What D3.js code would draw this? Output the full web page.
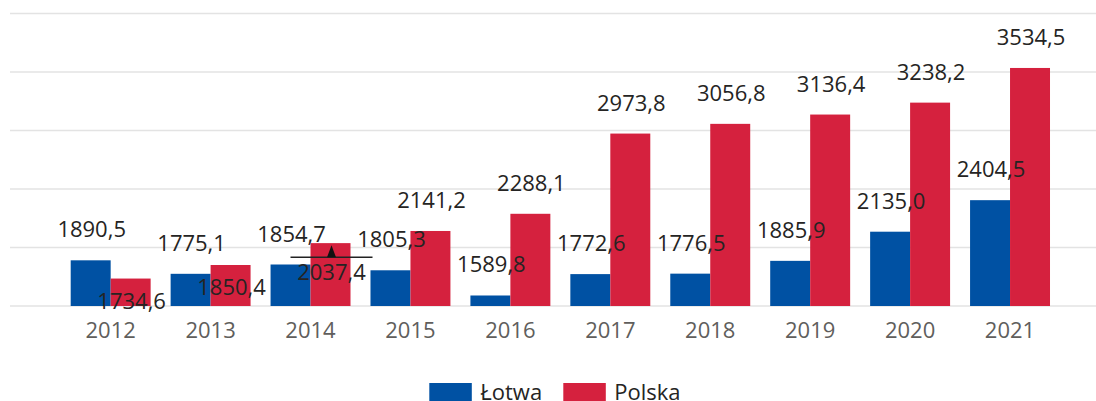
<!DOCTYPE html>
<html>
<head>
<meta charset="utf-8">
<script src="https://cdn.jsdelivr.net/npm/d3@7"></script>
<style>
  body { margin: 0; background: #fff; }
  svg { display: block; font-family: "Segoe UI", "Open Sans", sans-serif; }
</style>
</head>
<body>
<svg id="chart" width="1096" height="401"></svg>
<script>
var years = ["2012", "2013", "2014", "2015", "2016", "2017", "2018", "2019", "2020", "2021"]
var seriesNames = ["Łotwa", "Polska"]
var lotwa = [1890.5, 1775.1, 1854.7, 1805.3, 1589.8, 1772.6, 1776.5, 1885.9, 2135.0, 2404.5]
var polska = [1734.6, 1850.4, 2037.4, 2141.2, 2288.1, 2973.8, 3056.8, 3136.4, 3238.2, 3534.5]
var gridValues = [1500, 2000, 2500, 3000, 3500, 4000]
var markerYear = "2014"
var markerValue = 1916

var colors = { "Łotwa": "#0051a3", "Polska": "#d5213e" }
var svg = d3.select("#chart")

var x0 = d3.scaleBand().domain(years).range([60.7, 1060]).paddingInner(0.2).paddingOuter(0.1)
var x1 = d3.scaleBand().domain(seriesNames).range([0, x0.bandwidth()])
var y = d3.scaleLinear().domain([1500, 4000]).range([306, 13.5])

var rows = years.map(function(yr, i) {
  return { year: yr, values: [
    { name: "Łotwa", value: lotwa[i] },
    { name: "Polska", value: polska[i] }
  ]}
})

// grid
svg.append("g").selectAll("line")
  .data(gridValues)
  .enter()
  .append("line")
  .attr("x1", 10)
  .attr("x2", 1096)
  .attr("y1", (d) => y(d))
  .attr("y2", (d) => y(d))
  .attr("stroke", "#e3e3e3")
  .attr("stroke-width", 1.5)

// bars
var groups = svg.append("g").selectAll("g")
  .data(rows)
  .enter()
  .append("g")
  .attr("transform", (d) => "translate(" + x0(d.year) + ",0)")

groups.selectAll("rect")
  .data((d) => d.values)
  .enter()
  .append("rect")
  .attr("x", (d) => x1(d.name))
  .attr("y", (d) => y(d.value))
  .attr("width", x1.bandwidth())
  .attr("height", (d) => y(1500) - y(d.value))
  .attr("fill", (d) => colors[d.name])

// marker
var mx = x0(markerYear) + x1("Polska") + x1.bandwidth() / 2 + 1
var my = y(markerValue)
var marker = svg.append("g")
marker.append("line")
  .attr("x1", mx - 41).attr("x2", mx + 41)
  .attr("y1", my).attr("y2", my)
  .attr("stroke", "#222").attr("stroke-width", 1.5)
marker.append("path")
  .attr("d", "M" + (mx - 4.5) + "," + my + "L" + mx + "," + (my - 12) + "L" + (mx + 4.5) + "," + my + "Z")
  .attr("fill", "#111")

// data labels: above the bar, moved inside when they collide with the neighbour
var labels = []
rows.forEach(function(r) {
  var aMid = y(r.values[0].value) - 31
  labels.push({ year: r.year, name: "Łotwa", value: r.values[0].value, mid: aMid })
  var top = y(r.values[1].value)
  var bMid = top - 31
  if (Math.abs(bMid - aMid) < 26) {
    bMid = top + 22
    if (r.year == markerYear) bMid = Math.max(bMid, my + 15)
  }
  labels.push({ year: r.year, name: "Polska", value: r.values[1].value, mid: bMid })
})

svg.append("g").selectAll("text")
  .data(labels)
  .enter()
  .append("text")
  .attr("x", (d) => x0(d.year) + x1(d.name) + x1.bandwidth() / 2 + 1)
  .attr("y", (d) => d.mid + 8)
  .attr("text-anchor", "middle")
  .attr("font-size", 22)
  .attr("fill", "#252423")
  .text((d) => d3.format(".1f")(d.value).replace(".", ","))

// x axis labels
svg.append("g").selectAll("text")
  .data(years)
  .enter()
  .append("text")
  .attr("x", (d) => x0(d) + x0.bandwidth() / 2)
  .attr("y", 338)
  .attr("text-anchor", "middle")
  .attr("font-size", 22)
  .attr("fill", "#605e5c")
  .text((d) => d)

// legend
var legendX = [429.3, 563.3]
var legend = svg.append("g").selectAll("g")
  .data(seriesNames)
  .enter()
  .append("g")
  .attr("transform", (d, i) => "translate(" + legendX[i] + ",383)")
legend.append("rect")
  .attr("width", 42.5)
  .attr("height", 20)
  .attr("fill", (d) => colors[d])
legend.append("text")
  .attr("x", 51)
  .attr("y", 17)
  .attr("font-size", 22)
  .attr("fill", "#252423")
  .text((d) => d)
</script>
</body>
</html>
